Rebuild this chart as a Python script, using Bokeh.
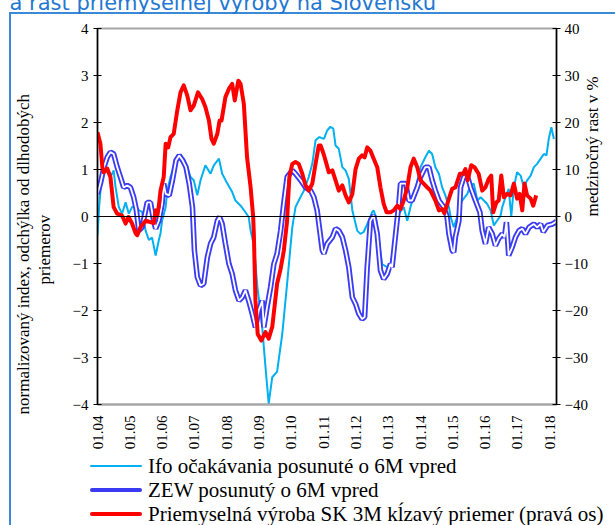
import math
from bokeh.plotting import figure
from bokeh.layouts import column
from bokeh.models import Range1d, LinearAxis, FixedTicker, Span, Div, Title
from bokeh.embed import file_html
from bokeh.resources import INLINE

# ---------------- data ----------------
year_ticks = list(range(2004, 2019))
year_labels = ["01.04", "01.05", "01.06", "01.07", "01.08", "01.09", "01.10", "01.11",
               "01.12", "01.13", "01.14", "01.15", "01.16", "01.17", "01.18"]
left_ticks = [-4, -3, -2, -1, 0, 1, 2, 3, 4]
right_ticks = [-40, -30, -20, -10, 0, 10, 20, 30, 40]

ifo_t = [2004.00, 2004.05, 2004.10, 2004.20, 2004.30, 2004.40, 2004.50, 2004.56, 2004.66, 2004.76,
         2004.87, 2004.97, 2005.07, 2005.18, 2005.28, 2005.38, 2005.49, 2005.59, 2005.69, 2005.80,
         2005.90, 2005.95, 2006.00, 2006.11, 2006.16, 2006.26, 2006.36, 2006.47, 2006.57, 2006.67,
         2006.78, 2006.88, 2006.98, 2007.09, 2007.19, 2007.34, 2007.50, 2007.60, 2007.76, 2007.86,
         2008.02, 2008.17, 2008.27, 2008.43, 2008.58, 2008.68, 2008.74, 2008.84, 2008.95, 2009.10,
         2009.20, 2009.30, 2009.41, 2009.56, 2009.72, 2009.87, 2010.03, 2010.13, 2010.23, 2010.39,
         2010.54, 2010.65, 2010.75, 2010.87, 2011.01, 2011.11, 2011.21, 2011.30, 2011.37, 2011.47,
         2011.58, 2011.68, 2011.78, 2011.89, 2011.94, 2012.04, 2012.14, 2012.24, 2012.40, 2012.50,
         2012.55, 2012.61, 2012.71, 2012.81, 2012.97, 2013.07, 2013.23, 2013.33, 2013.48, 2013.59,
         2013.69, 2013.85, 2014.00, 2014.15, 2014.26, 2014.36, 2014.46, 2014.57, 2014.67, 2014.77,
         2014.88, 2014.93, 2015.03, 2015.14, 2015.19, 2015.29, 2015.45, 2015.55, 2015.65, 2015.76,
         2015.86, 2015.96, 2016.06, 2016.17, 2016.27, 2016.37, 2016.48, 2016.53, 2016.63, 2016.73,
         2016.81, 2016.89, 2016.99, 2017.10, 2017.20, 2017.30, 2017.41, 2017.51, 2017.61, 2017.72,
         2017.82, 2017.90, 2017.97, 2018.05, 2018.13]
ifo_v = [-0.40, 0.20, 0.62, 0.98, 1.01, 0.84, 0.98, 0.62, 0.20, 0.06,
         0.30, 0.06, 0.20, 0.23, 0.13, 0.10, -0.30, -0.50, -0.45, -0.83,
         -0.50, -0.36, -0.09, 0.20, 0.55, 0.84, 1.05, 1.23, 1.26, 1.23,
         1.05, 0.84, 0.77, 0.45, 0.77, 1.09, 0.91, 1.09, 1.23, 0.91,
         0.70, 0.52, 0.34, 0.23, 0.09, -0.01, -0.30, -0.60, -1.50, -2.36,
         -3.20, -3.98, -3.42, -3.30, -2.50, -1.43, -0.23, 0.20, 0.34, 0.55,
         0.84, 1.12, 1.62, 1.69, 1.65, 1.83, 1.91, 1.87, 1.51, 1.44,
         1.05, 0.98, 0.80, 0.13, -0.01, -0.30, -0.37, -0.33, -0.09, 0.09,
         0.13, 0.00, -0.51, -1.01, -1.08, -1.00, -0.51, 0.06, 0.20, -0.09,
         0.20, 0.59, 1.05, 1.26, 1.40, 1.33, 1.05, 0.91, 0.62, 0.45,
         0.20, 0.00, -0.23, 0.00, 0.20, 0.34, 0.48, 0.66, 0.70, 0.34,
         0.41, 0.34, 0.27, 0.13, -0.19, -0.09, 0.02, 0.20, 0.41, 0.59,
         0.00, 0.62, 0.94, 0.87, 0.62, 0.77, 0.87, 1.05, 1.12, 1.23,
         1.33, 1.30, 1.65, 1.90, 1.65]

zew_t = [2004.00, 2004.09, 2004.20, 2004.30, 2004.40, 2004.50, 2004.61, 2004.71, 2004.81, 2004.92,
         2005.02, 2005.12, 2005.20, 2005.28, 2005.38, 2005.49, 2005.54, 2005.64, 2005.74, 2005.80,
         2005.90, 2006.00, 2006.05, 2006.11, 2006.22, 2006.32, 2006.43, 2006.53, 2006.64, 2006.74,
         2006.84, 2006.94, 2007.00, 2007.09, 2007.19, 2007.29, 2007.40, 2007.50, 2007.60, 2007.71,
         2007.78, 2007.86, 2007.96, 2008.07, 2008.17, 2008.27, 2008.38, 2008.48, 2008.58, 2008.68,
         2008.79, 2008.89, 2008.99, 2009.10, 2009.15, 2009.25, 2009.36, 2009.46, 2009.56, 2009.67,
         2009.77, 2009.87, 2010.03, 2010.13, 2010.29, 2010.44, 2010.60, 2010.70, 2010.80, 2010.96,
         2011.01, 2011.11, 2011.27, 2011.37, 2011.47, 2011.58, 2011.68, 2011.78, 2011.89, 2011.99,
         2012.09, 2012.19, 2012.27, 2012.35, 2012.45, 2012.55, 2012.66, 2012.76, 2012.86, 2012.97,
         2013.07, 2013.12, 2013.23, 2013.33, 2013.38, 2013.54, 2013.64, 2013.74, 2013.90, 2014.00,
         2014.15, 2014.26, 2014.36, 2014.46, 2014.57, 2014.72, 2014.82, 2014.88, 2014.98, 2015.03,
         2015.08, 2015.19, 2015.24, 2015.34, 2015.45, 2015.55, 2015.70, 2015.84, 2015.91, 2016.01,
         2016.11, 2016.22, 2016.32, 2016.42, 2016.53, 2016.60, 2016.66, 2016.73, 2016.84, 2016.94,
         2017.05, 2017.15, 2017.25, 2017.36, 2017.51, 2017.61, 2017.72, 2017.80, 2017.93, 2018.08,
         2018.18, 2018.21]
zew_v = [0.48, 0.70, 1.05, 1.26, 1.37, 1.33, 1.05, 0.84, 0.62, 0.66,
         0.62, 0.41, 0.15, -0.30, -0.23, 0.13, 0.30, 0.30, -0.09, -0.26,
         -0.09, 0.27, 0.70, 0.48, 0.45, 0.77, 1.19, 1.30, 1.19, 1.05,
         0.70, 0.20, -0.72, -1.29, -1.47, -1.43, -0.87, -0.58, -0.44, -0.09,
         -0.01, -0.16, -0.58, -1.01, -1.22, -1.57, -1.79, -1.72, -1.57, -1.79,
         -2.07, -2.36, -2.00, -1.79, -2.36, -1.93, -1.50, -1.01, -0.79, -0.30,
         0.30, 0.84, 0.98, 0.91, 0.77, 0.62, 0.55, 0.41, 0.13, -0.72,
         -0.79, -0.58, -0.44, -0.26, -0.30, -0.44, -0.72, -1.08, -1.72, -1.86,
         -2.07, -2.18, -2.14, -1.08, -0.09, 0.02, -0.37, -1.15, -1.33, -1.22,
         -1.01, -1.08, -0.37, 0.27, 0.70, 0.70, 0.34, 0.34, 0.62, 0.84,
         1.05, 1.05, 0.77, 0.55, 0.34, 0.20, 0.00, -0.37, -0.72, -0.76,
         -0.44, -0.09, 0.62, 0.84, 0.87, 0.62, 0.34, 0.09, -0.30, -0.58,
         -0.23, -0.37, -0.62, -0.47, -0.37, -0.44, -0.12, -0.83, -0.65, -0.44,
         -0.30, -0.26, -0.37, -0.23, -0.16, -0.23, -0.16, -0.33, -0.19, -0.16,
         -0.12, -0.09]

ip_t = [2004.00, 2004.09, 2004.15, 2004.19, 2004.30, 2004.40, 2004.50, 2004.61, 2004.76, 2004.87,
        2004.96, 2005.07, 2005.18, 2005.23, 2005.33, 2005.49, 2005.64, 2005.74, 2005.80, 2005.85,
        2005.90, 2005.95, 2006.05, 2006.11, 2006.19, 2006.26, 2006.36, 2006.47, 2006.57, 2006.67,
        2006.78, 2006.88, 2006.98, 2007.11, 2007.24, 2007.34, 2007.45, 2007.53, 2007.60, 2007.71,
        2007.78, 2007.84, 2007.96, 2008.07, 2008.17, 2008.25, 2008.36, 2008.43, 2008.53, 2008.63,
        2008.74, 2008.82, 2008.84, 2008.89, 2008.96, 2009.07, 2009.20, 2009.30, 2009.41, 2009.56,
        2009.67, 2009.77, 2009.87, 2009.90, 2009.94, 2010.03, 2010.13, 2010.23, 2010.34, 2010.44,
        2010.54, 2010.65, 2010.75, 2010.85, 2010.91, 2011.00, 2011.06, 2011.16, 2011.27, 2011.37,
        2011.47, 2011.58, 2011.68, 2011.78, 2011.89, 2011.99, 2012.09, 2012.19, 2012.27, 2012.35,
        2012.45, 2012.55, 2012.66, 2012.76, 2012.86, 2012.95, 2013.07, 2013.17, 2013.28, 2013.38,
        2013.48, 2013.59, 2013.69, 2013.79, 2013.90, 2014.00, 2014.15, 2014.31, 2014.46, 2014.57,
        2014.67, 2014.74, 2014.88, 2014.98, 2015.08, 2015.22, 2015.32, 2015.39, 2015.46, 2015.57,
        2015.67, 2015.80, 2015.91, 2016.01, 2016.11, 2016.19, 2016.25, 2016.35, 2016.42, 2016.50,
        2016.58, 2016.68, 2016.79, 2016.89, 2016.99, 2017.07, 2017.15, 2017.22, 2017.30, 2017.41,
        2017.49, 2017.58]
ip_v = [17.9, 15.5, 10.5, 9.4, 10.2, 8.4, 2.0, 0.6, 0.2, -1.5,
        -0.1, -1.5, -3.6, -4.0, -2.3, -0.9, -1.2, -1.4, 1.3, 0.2,
        2.3, 5.5, 8.4, 15.5, 14.7, 16.9, 17.6, 22.6, 26.4, 27.9,
        25.7, 22.6, 23.6, 26.4, 25.0, 23.3, 20.4, 16.5, 15.5, 17.6,
        20.4, 20.4, 25.4, 27.2, 28.2, 24.7, 28.9, 28.2, 24.0, 12.6,
        6.2, -0.1, -3.7, -17.9, -25.0, -26.4, -24.6, -26.0, -23.5, -14.3,
        -11.1, -7.2, -0.9, 3.4, 8.4, 11.2, 11.6, 11.2, 9.1, 6.6,
        5.5, 7.0, 11.2, 15.1, 15.1, 13.3, 11.9, 9.4, 9.8, 7.7,
        5.5, 6.6, 4.5, 3.0, 4.8, 10.1, 12.3, 13.0, 12.6, 14.7,
        14.0, 12.3, 10.5, 6.2, 2.7, 0.9, 0.9, 1.3, 2.3, 1.6,
        3.4, 6.2, 10.5, 12.3, 10.5, 7.7, 6.6, 5.5, 3.4, 1.3,
        1.6, 0.7, 3.8, 5.9, 6.2, 9.1, 9.1, 10.1, 7.7, 10.9,
        10.5, 9.1, 5.5, 6.2, 8.0, 8.7, 0.9, 3.0, 3.4, 8.7,
        4.1, 4.8, 4.5, 7.0, 3.8, 4.8, 1.3, 7.0, 4.5, 3.8,
        2.3, 4.5]

title_text = "a rast priemyselnej výroby na Slovensku"
left_label_lines = ["normalizovaný index, odchýlka od dlhodobých", "priemerov"]
right_label = "medziročný rast v %"
names = ["Ifo očakávania posunuté o 6M vpred",
         "ZEW posunutý o 6M vpred",
         "Priemyselná výroba SK 3M kĺzavý priemer (pravá os)"]

# ---------------- styles ----------------
SERIF = "Liberation Serif"
SHIFT = 26          # layout starts this many px above the page top (title is cut off)
FRAME_BLUE = "#3a8ad8"
IFO_C, ZEW_C, IP_C = "#00b0f0", "#3b3bf5", "#ff0000"

# ---------------- main chart ----------------
MAIN_H = SHIFT + 452
p = figure(width=615, height=MAIN_H, output_backend="svg", toolbar_location=None,
           x_range=Range1d(2004.0, 2018.21), y_range=Range1d(-4, 4),
           min_border_left=97, min_border_right=59, min_border_top=28 + SHIFT,
           min_border_bottom=MAIN_H - (SHIFT + 404))
p.border_fill_alpha = 0
p.background_fill_color = "white"
p.extra_y_ranges = {"right": Range1d(-40, 40)}
p.xgrid.visible = False
p.ygrid.visible = False
p.outline_line_color = "#a6a6a6"
p.outline_line_width = 2

p.title.text = title_text
p.title.text_font = "DejaVu Sans"
p.title.text_font_size = "21px"
p.title.text_font_style = "normal"
p.title.text_color = "#1f78d1"
p.title.align = "left"
p.title.vertical_align = "bottom"
p.title.offset = -88
p.title.standoff = 27

xa = p.xaxis[0]
xa.ticker = FixedTicker(ticks=year_ticks)
xa.major_label_overrides = {t: l for t, l in zip(year_ticks, year_labels)}
xa.major_label_orientation = math.pi / 2
xa.major_tick_line_color = None
xa.minor_tick_line_color = None
xa.axis_line_color = "#a6a6a6"
xa.axis_line_width = 2
xa.major_label_text_font = SERIF
xa.major_label_text_font_size = "15px"
xa.major_label_text_color = "black"
xa.major_label_standoff = 5

ya = p.yaxis[0]
ya.ticker = FixedTicker(ticks=left_ticks)
ya.major_tick_in = 4
ya.major_tick_out = 4
ya.minor_tick_line_color = None
ya.axis_line_color = "black"
ya.axis_line_width = 1.5
ya.major_tick_line_color = "black"
ya.major_label_text_font = SERIF
ya.major_label_text_font_size = "15px"
ya.major_label_text_color = "black"
ya.major_label_standoff = 5

# left axis title: two lines, placed lower than the frame centre, as in the original
LEFT_TITLE_FMT = dict(text_font=SERIF, text_font_size="17px", text_font_style="normal",
                      text_color="black", align="left", vertical_align="bottom", standoff=0)
# thin blank spacer between the tick labels and the axis title
p.add_layout(Title(text=" ", text_font_size="1px", standoff=13), "left")
p.add_layout(Title(text=left_label_lines[1], offset=120, **LEFT_TITLE_FMT), "left")
p.add_layout(Title(text=left_label_lines[0], offset=-10, **LEFT_TITLE_FMT), "left")

ra = LinearAxis(y_range_name="right", ticker=FixedTicker(ticks=right_ticks))
ra.major_tick_in = 4
ra.major_tick_out = 4
ra.minor_tick_line_color = None
ra.axis_line_color = "black"
ra.axis_line_width = 1.5
ra.major_label_text_font = SERIF
ra.major_label_text_font_size = "15px"
ra.major_label_text_color = "black"
ra.major_label_standoff = 4
ra.axis_label = right_label
ra.axis_label_orientation = math.pi / 2
ra.axis_label_text_font = SERIF
ra.axis_label_text_font_size = "17px"
ra.axis_label_text_font_style = "normal"
ra.axis_label_text_color = "black"
ra.axis_label_standoff = 2
p.add_layout(ra, "right")

p.add_layout(Span(location=0, dimension="width", line_color="black", line_width=1))

p.line(ifo_t, ifo_v, line_color=IFO_C, line_width=2)
p.line(zew_t, zew_v, line_color=ZEW_C, line_width=5.5)
p.line(zew_t, zew_v, line_color="white", line_width=1.8)
p.line(ip_t, ip_v, y_range_name="right", line_color=IP_C, line_width=4, line_join="round")

# ---------------- legend strip (HTML text) ----------------
LEG_H = 525 - 452
swatches = [
    f"width:52px;height:0;border-top:2px solid {IFO_C};border-radius:1px;",
    f"width:52px;height:1.6px;background:white;border-top:2px solid {ZEW_C};"
    f"border-bottom:2px solid {ZEW_C};border-radius:3px;",
    f"width:52px;height:0;border-top:4px solid {IP_C};border-radius:2px;",
]
rows = "".join(
    f'<div style="height:24px;display:flex;align-items:center;">'
    f'<span style="display:inline-block;margin-left:90px;{sw}"></span>'
    f'<span style="margin-left:6px;white-space:nowrap;">{nm}</span></div>'
    for sw, nm in zip(swatches, names))
legend_html = (f'<div style="font-family:\'{SERIF}\';font-size:21px;color:black;'
               f'padding-top:2px;line-height:22px;">{rows}</div>')
leg = Div(text=legend_html, width=615, height=LEG_H, margin=0)

layout = column(p, leg, spacing=0,
                styles={"margin-top": f"-{SHIFT}px",
                        "background-color": "white",
                        "background-image": f"linear-gradient({FRAME_BLUE},{FRAME_BLUE}), "
                                            f"linear-gradient({FRAME_BLUE},{FRAME_BLUE})",
                        "background-size": "100% 2px, 2px 100%",
                        "background-position": f"9px {SHIFT + 11.5}px, 9px {SHIFT + 11.5}px",
                        "background-repeat": "no-repeat"})

open("out.html", "w").write(file_html(layout, INLINE))
